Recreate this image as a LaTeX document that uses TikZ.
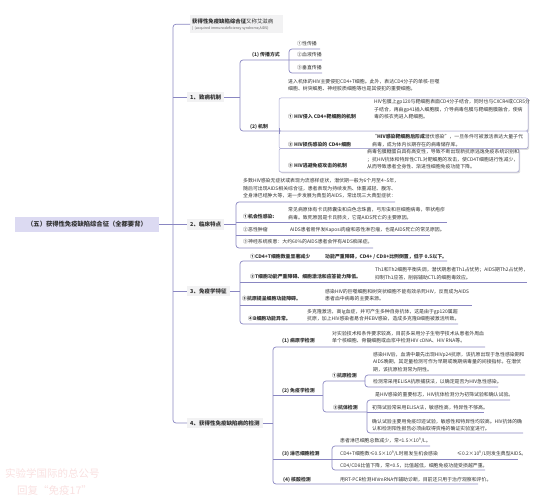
\documentclass[tikz,border=0pt]{standalone}
\usepackage{fontspec}
\setmainfont{Noto Sans CJK SC}
\definecolor{lc}{HTML}{8A87C2}
\definecolor{txt}{HTML}{333333}
\definecolor{rootf}{HTML}{DCDAF2}
\definecolor{boxf}{HTML}{F2F2F3}
\definecolor{wm}{HTML}{F9E0E0}
\tikzset{
 tx/.style={anchor=west, inner sep=0pt, align=left, text=txt, font=\fontsize{4.9}{7.5}\selectfont},
 bx/.style={tx, font=\fontsize{4.9}{7.5}\selectfont\bfseries},
 brl/.style={anchor=west, inner xsep=3pt, inner ysep=2.5pt, text=txt, fill=boxf, font=\fontsize{5.5}{7}\selectfont\bfseries},
 ln/.style={draw=lc, line width=0.7pt, rounded corners=3pt},
 rowbox/.style={fill=white, draw=lc!80, line width=0.5pt, rounded corners=2pt},
 rowshadow/.style={fill=black!14, rounded corners=2pt},
}
\begin{document}
\begin{tikzpicture}[x=1pt, y=-1pt]
\useasboundingbox (0,0) rectangle (545,500);
% root and trunk
\node[fill=rootf, minimum width=144pt, minimum height=15pt, inner sep=0pt, text=txt, font=\fontsize{6.3}{7}\selectfont\bfseries] (root) at (87,224.5) {（五）获得性免疫缺陷综合征（全都要背）};
\node[fill=boxf, minimum width=93pt, minimum height=18pt, inner sep=0pt, anchor=north west] (title) at (190,15) {};
\node[tx, font=\fontsize{5.4}{6}\selectfont] (title1) at (192,21) {\textbf{获得性免疫缺陷综合征}又称艾滋病};
\node[tx, font=\fontsize{3.5}{4}\selectfont, text=txt!80] (title2) at (192,28.5) {|\ \ (acquired immunodeficiency syndrome,AIDS)};
\node[brl] (b1) at (187,97) {1、致病机制};
\node[brl] (b2) at (187,224.5) {2、临床特点};
\node[brl] (b3) at (187,291) {3、免疫学特征};
\node[brl] (b4) at (187,423) {4、获得性免疫缺陷病的检测};
\coordinate (tk) at (173,0);
\draw[ln] (title.west) -- (tk |- title.west) -- (tk |- b4.west) -- (b4.west);
\draw[ln] (tk |- b1.west) -- (b1.west);
\draw[ln] (tk |- b3.west) -- (b3.west);
\draw[ln] (root.east) -- (b2.west);

% ---------- branch 1
\coordinate (s1) at (240,0);
\draw[ln] (b1.east) -- (s1 |- b1.east);
\draw[ln] (322,60) -- (240,60) -- (240,131) -- (279,131);
\draw[ln] (320,49) -- (289,49) -- (289,73) -- (322,73);
\node[bx] (p1) at (252,55) {(1) 传播方式};
\node[tx] (p1a) at (297,44) {①性传播};
\node[tx] (p1b) at (297,55) {②血液传播};
\node[tx] (p1c) at (297,68) {③垂直传播};
\node[bx] (p2) at (250,127) {(2) 机制};
\node[tx] (p2i) at (288,85) {进入机体的HIV主要侵犯CD4+T细胞。此外，表达CD4分子的单核-巨噬\\细胞、树突细胞、神经胶质细胞等也是其侵犯的重要细胞。};
\fill[rowshadow] (280.2,99.2) rectangle (529.2,132.3);
\fill[rowshadow] (280.2,132.2) rectangle (529.2,149.8);
\fill[rowshadow] (280.2,149.8) rectangle (520.2,173.3);
\filldraw[rowbox] (279,98) rectangle (528,131);
\filldraw[rowbox] (279,131) rectangle (528,148.5);
\filldraw[rowbox] (279,148.5) rectangle (519,172);
\draw[ln, rounded corners=0pt] (279,128) -- (279,134);
\node[bx] (r1) at (288,117) {① HIV侵入 CD4+靶细胞的机制};
\node[tx] (r1t) at (374,109.5) {HIV包膜上gp120与靶细胞表面CD4分子结合，同时也与CXCR4或CCR5分\\子结合，再由gp41插入细胞膜，介导病毒包膜与靶细胞膜融合，使病\\毒的核衣壳进入靶细胞。};
\node[bx] (r2) at (288,144.5) {② HIV损伤感染的 CD4+细胞};
\node[tx] (r2t) at (372,140.5) {“\textbf{HIV感染靶细胞后形成}潜伏感染”，一旦条件可被激活表达大量子代\\病毒，成为体内长期存在的病毒储存库。};
\node[bx] (r3) at (288,166) {③ HIV逃避免疫攻击的机制};
\node[tx] (r3t) at (367,159.5) {病毒包膜糖蛋白具有高变性，导致不断出现新抗原逃逸免疫系统识别和\\；抗HIV抗体和特异性CTL对靶细胞的攻击，使CD4T细胞进行性减少，\\从而导致患者全身性、渐进性细胞免疫功能下降。};

% ---------- branch 2
\coordinate (s2) at (236,0);
\draw[ln] (b2.east) -- (s2 |- b2.east);
\draw[ln] (395,202) -- (236,202) -- (236,248) -- (373,248);
\draw[ln] (236,222) -- (447,222);
\draw[ln] (236,235) -- (430,235);
\node[tx] (c0) at (243,188.5) {多数HIV感染无症状或表现为流感样症状，潜伏期一般为6个月至4\textasciitilde 5年，\\随后可出现AIDS相关综合征，患者表现为持续发热、体重减轻、腹泻、\\全身淋巴结肿大等，进一步发展为典型的AIDS，常出现三大典型症状：};
\node[bx] (c1) at (243,217) {①机会性感染:};
\node[tx] (c1t) at (288,213.5) {常见病原体有卡氏肺囊虫和白色念珠菌，弓形虫和巨细胞病毒，带状疱疹\\病毒。致死原因是卡氏肺炎，它是AIDS死亡的主要原因。};
\node[tx] (c2) at (243,230) {②恶性肿瘤};
\node[tx] (c2t) at (290,230) {AIDS患者易伴发Kaposi肉瘤和恶性淋巴瘤，也是AIDS死亡的常见原因。};
\node[tx] (c3) at (243,242) {③神经系统疾患：大约60\%的AIDS患者会伴有AIDS痴呆症。};

% ---------- branch 3
\coordinate (s3) at (240,0);
\draw[ln] (b3.east) -- (s3 |- b3.east);
\draw[ln] (447,261) -- (240,261) -- (240,324) -- (458,324);
\draw[ln] (240,282) -- (527,282);
\draw[ln] (240,305) -- (472,305);
\node[bx] (d1) at (250,256.5) {①CD4+T细胞数量显著减少};
\node[bx] (d1t) at (325,256.5) {功能严重障碍，CD4+ / CD8+比例倒置，低于 0.5以下。};
\node[bx] (d2) at (250,277) {②T细胞功能严重障碍、细胞激活和应答能力降低。};
\node[tx] (d2t) at (375,273.5) {Th1和Th2细胞平衡失调，潜伏期患者Th1占优势；AIDS期Th2占优势，\\抑制Th1应答，削弱辅助CTL的细胞毒效应。};
\node[bx] (d3) at (242,299) {③抗原提呈细胞功能障碍。};
\node[tx] (d3t) at (325,295) {感染HIV的巨噬细胞和树突状细胞不能有效杀死HIV，反而成为AIDS\\患者血中病毒的主要来源。};
\node[bx] (d4) at (248,319) {④B细胞功能异常。};
\node[tx] (d4t) at (307,315.3) {多克隆激活，高Ig血症，并可产生多种自身抗体，这是由于gp120属超\\抗原，加上HIV感染者易合并EBV感染，造成多克隆B细胞被激活所致。};

% ---------- branch 4
\coordinate (s4) at (273,0);
\draw[ln] (b4.east) -- (s4 |- b4.east);
\draw[ln] (485,347) -- (273,347) -- (273,484) -- (478,484);
\node[bx] (e1) at (282,341) {(1) 病原学检测};
\node[tx] (e1t) at (332,337) {对实验技术和条件要求较高，目前多采用分子生物学技术从患者外周血\\单个核细胞、骨髓细胞或血浆中检测HIV cDNA、HIV RNA等。};
\draw[ln] (273,395) -- (323,395);
\draw[ln] (365,381) -- (323,381) -- (323,412) -- (367,412);
\node[bx] (e2) at (282,391) {(2) 免疫学检测};
\node[bx] (e2a) at (332,376) {①抗原检测};
\draw[ln] (525,375) -- (365,375) -- (365,387) -- (498,387);
\node[tx] (e2a1) at (373,362) {感染HIV后，血清中最先出现HIVp24抗原，该抗原出现于急性感染期和\\AIDS晚期，其定量检测可作为早期或晚期病毒量的间接指标。在潜伏\\期，该抗原检测常为阴性。};
\node[tx] (e2a2) at (373,382) {检测常采用ELISA抗原捕获法，以确定是否为HIV急性感染。};
\node[bx] (e2b) at (333,408) {②抗体检测};
\draw[ln] (510,400) -- (367,400) -- (367,433) -- (523,433);
\draw[ln] (367,412) -- (484,412);
\node[tx] (e2b1) at (375,395) {是HIV感染的重要标志，HIV抗体检测分为初筛试验和确认试验。};
\node[tx] (e2b2) at (372,407.5) {初筛试验常采用ELISA法，敏感性高，特异性不够高。};
\node[tx] (e2b3) at (372,425) {确认试验主要用免疫印迹试验，敏感性和特异性均较高。HIV抗体的确\\认和检测阳性报告必须由取得资格的确证实验室进行。};
\draw[ln] (273,459) -- (518,459);
\draw[ln] (430,446) -- (332,446) -- (332,470) -- (485,470);
\node[bx] (e3) at (282,454) {(3) 淋巴细胞检测};
\node[tx] (e3a) at (340,441) {患者淋巴细胞总数减少，常<1.5×10\textsuperscript{9}/L。};
\node[tx] (e3b) at (340,454) {CD4+T细胞数≤0.5×10\textsuperscript{9}/L时易发生机会感染};
\node[tx] (e3b2) at (457,454) {≤0.2×10\textsuperscript{9}/L则发生典型AIDS。};
\node[tx] (e3c) at (340,465.5) {CD4/CD8比值下降，常<0.5，比值越低，细胞免疫功能受损越严重。};
\node[bx] (e4) at (283,480) {(4) 核酸检测};
\node[tx] (e4t) at (340,480) {用RT-PCR检测HIVmRNA作辅助诊断，目前还只用于治疗观察和评价。};

% watermark
\node[anchor=west, inner sep=0pt, text=wm, font=\fontsize{10.5}{12}\selectfont] (wm1) at (5,473) {实验学国际的总公号};
\node[anchor=west, inner sep=0pt, text=wm, font=\fontsize{10.5}{12}\selectfont] (wm2) at (17,490) {回复“免疫17”};
\end{tikzpicture}
\end{document}
